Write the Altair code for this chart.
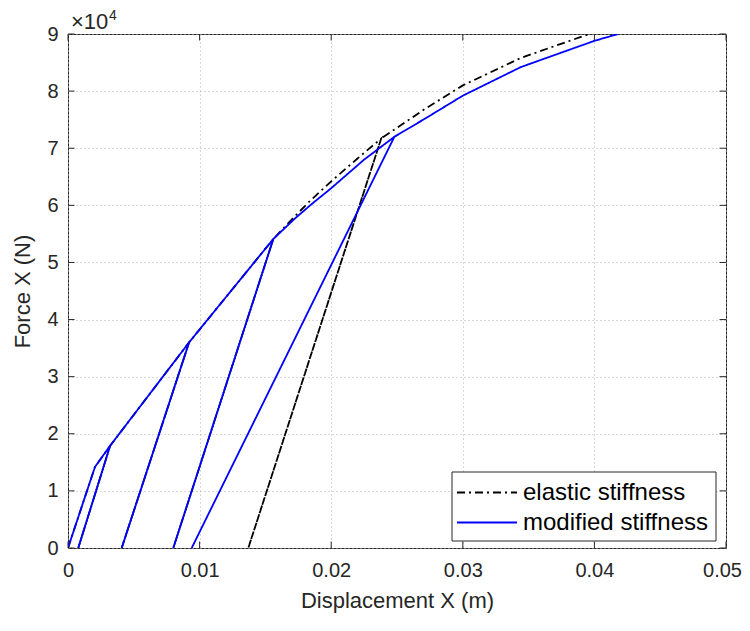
import altair as alt
import pandas as pd

# ---- data ----
series_names = ["elastic stiffness", "modified stiffness"]

elastic_x = [0, 0.00205, 0.0032, 0.00078, 0.0032, 0.0092, 0.00408, 0.0092, 0.0156, 0.0080,
             0.0156, 0.0172, 0.0184, 0.0200, 0.0220, 0.0238, 0.0137, 0.0238, 0.0270, 0.0300,
             0.0344, 0.0396]
elastic_f = [0, 14200, 17900, 0, 17900, 36000, 0, 36000, 54100, 0,
             54100, 58000, 60800, 64200, 68200, 71700, 0, 71700, 76700, 81000,
             85800, 90000]

modified_x = [0, 0.00205, 0.0032, 0.00078, 0.0032, 0.0092, 0.00408, 0.0092, 0.0156, 0.0080,
              0.0156, 0.0172, 0.0184, 0.0200, 0.0225, 0.0248, 0.0094, 0.0248, 0.0270, 0.0300,
              0.0344, 0.0400, 0.0418]
modified_f = [0, 14200, 17900, 0, 17900, 36000, 0, 36000, 54100, 0,
              54100, 57600, 60000, 63000, 68000, 72000, 0, 72000, 75000, 79200,
              84200, 88800, 90000]

x_ticks = [0, 0.01, 0.02, 0.03, 0.04, 0.05]
y_ticks = [0, 10000, 20000, 30000, 40000, 50000, 60000, 70000, 80000, 90000]

# ---- build tables ----
rows = []
for i, (x, f) in enumerate(zip(elastic_x, elastic_f)):
    rows.append({"series": series_names[0], "x": x, "f": f, "order": i})
for i, (x, f) in enumerate(zip(modified_x, modified_f)):
    rows.append({"series": series_names[1], "x": x, "f": f, "order": i})
df = pd.DataFrame(rows)
xt = pd.DataFrame({"x": x_ticks})
yt = pd.DataFrame({"f": y_ticks})

W, H = 658, 514
AX = "#262626"
FONT = "Liberation Sans"

xscale = alt.Scale(domain=[0, 0.05], nice=False, zero=False)
yscale = alt.Scale(domain=[0, 90000], nice=False, zero=False)
color_scale = alt.Scale(domain=series_names, range=["#000000", "#0000ff"])
dash_scale = alt.Scale(domain=series_names, range=[[8, 4, 2, 4], [1, 0]])

xaxis = alt.Axis(values=x_ticks, title="Displacement X (m)",
                 labelExpr="datum.value == 0 ? '0' : format(datum.value, '.2f')",
                 labelOffset={"condition": {"test": "datum.value > 0.0499", "value": -4}, "value": 0},
                 ticks=False, domain=False, grid=True, gridDash=[1, 3], gridColor="#b0b0b0",
                 gridWidth=1, labelFontSize=20, titleFontSize=22, labelColor=AX, titleColor=AX,
                 labelPadding=12, titlePadding=10, titleFontWeight="normal", labelFont=FONT,
                 titleFont=FONT, labelFlush=False)
yaxis = alt.Axis(values=y_ticks, title="Force X (N)",
                 labelExpr="format(datum.value / 10000, 'd')",
                 ticks=False, domain=False, grid=True, gridDash=[1, 3], gridColor="#b0b0b0",
                 gridWidth=1, labelFontSize=20, titleFontSize=22, labelColor=AX, titleColor=AX,
                 labelPadding=10, titlePadding=12, titleFontWeight="normal", labelFont=FONT,
                 titleFont=FONT, labelFlush=False)

X = alt.X("x:Q", scale=xscale, axis=xaxis)
Y = alt.Y("f:Q", scale=yscale, axis=yaxis)

base = alt.Chart(df)

enc = dict(
    order=alt.Order("order:Q"),
    color=alt.Color("series:N", scale=color_scale, legend=None),
    strokeDash=alt.StrokeDash("series:N", scale=dash_scale, legend=None),
)

elastic_layer = base.transform_filter(alt.datum.series == series_names[0]).mark_line(
    strokeWidth=1.8, clip=True
).encode(x=X, y=Y, **enc)
modified_layer = base.transform_filter(alt.datum.series == series_names[1]).mark_line(
    strokeWidth=1.8, clip=True
).encode(x=X, y=Y, **enc)

TL = 6.5
tick_style = dict(color=AX, strokeWidth=1)
bottom_ticks = alt.Chart(xt).mark_rule(**tick_style).encode(
    x=X, y=alt.value(H), y2=alt.value(H - TL))
top_ticks = alt.Chart(xt).mark_rule(**tick_style).encode(
    x=X, y=alt.value(0), y2=alt.value(TL))
left_ticks = alt.Chart(yt).mark_rule(**tick_style).encode(
    y=Y, x=alt.value(0), x2=alt.value(TL))
right_ticks = alt.Chart(yt).mark_rule(**tick_style).encode(
    y=Y, x=alt.value(W), x2=alt.value(W - TL))

# exponent label
one = pd.DataFrame({"a": [0]})
exp_base = alt.Chart(one).mark_text(text="×10", align="left", baseline="alphabetic",
                                     fontSize=22, font=FONT, color=AX).encode(
    x=alt.value(3), y=alt.value(-5))
exp_pow = alt.Chart(one).mark_text(text="4", align="left", baseline="alphabetic",
                                    fontSize=14, font=FONT, color=AX).encode(
    x=alt.value(41), y=alt.value(-14))

# legend (box, samples, labels)
LX0, LX1, LY0, LY1 = 384, 648, 438, 507
leg_box = alt.Chart(one).mark_rect(fill="white", stroke=AX, strokeWidth=1).encode(
    x=alt.value(LX0), x2=alt.value(LX1), y=alt.value(LY0), y2=alt.value(LY1))
leg_l1 = alt.Chart(one).mark_rule(color="#000000", strokeWidth=1.8, strokeDash=[8, 4, 2, 4]).encode(
    x=alt.value(389), x2=alt.value(449), y=alt.value(458.5))
leg_l2 = alt.Chart(one).mark_rule(color="#0000ff", strokeWidth=1.8).encode(
    x=alt.value(389), x2=alt.value(449), y=alt.value(488.5))
leg_t1 = alt.Chart(one).mark_text(text=series_names[0], align="left", baseline="middle",
                                   fontSize=24, font=FONT, color="#000000").encode(
    x=alt.value(455), y=alt.value(459))
leg_t2 = alt.Chart(one).mark_text(text=series_names[1], align="left", baseline="middle",
                                   fontSize=24, font=FONT, color="#000000").encode(
    x=alt.value(455), y=alt.value(489))

chart = alt.layer(
    elastic_layer, modified_layer,
    bottom_ticks, top_ticks, left_ticks, right_ticks,
    exp_base, exp_pow,
    leg_box, leg_l1, leg_l2, leg_t1, leg_t2,
).properties(
    width=W, height=H,
    autosize=alt.AutoSizeParams(type="none"),
    padding={"left": 60, "top": 26, "right": 16, "bottom": 75},
    background="white",
).configure_view(
    stroke=AX, strokeWidth=1
)

chart.save("out.html", embed_options={"renderer": "svg", "actions": False})
